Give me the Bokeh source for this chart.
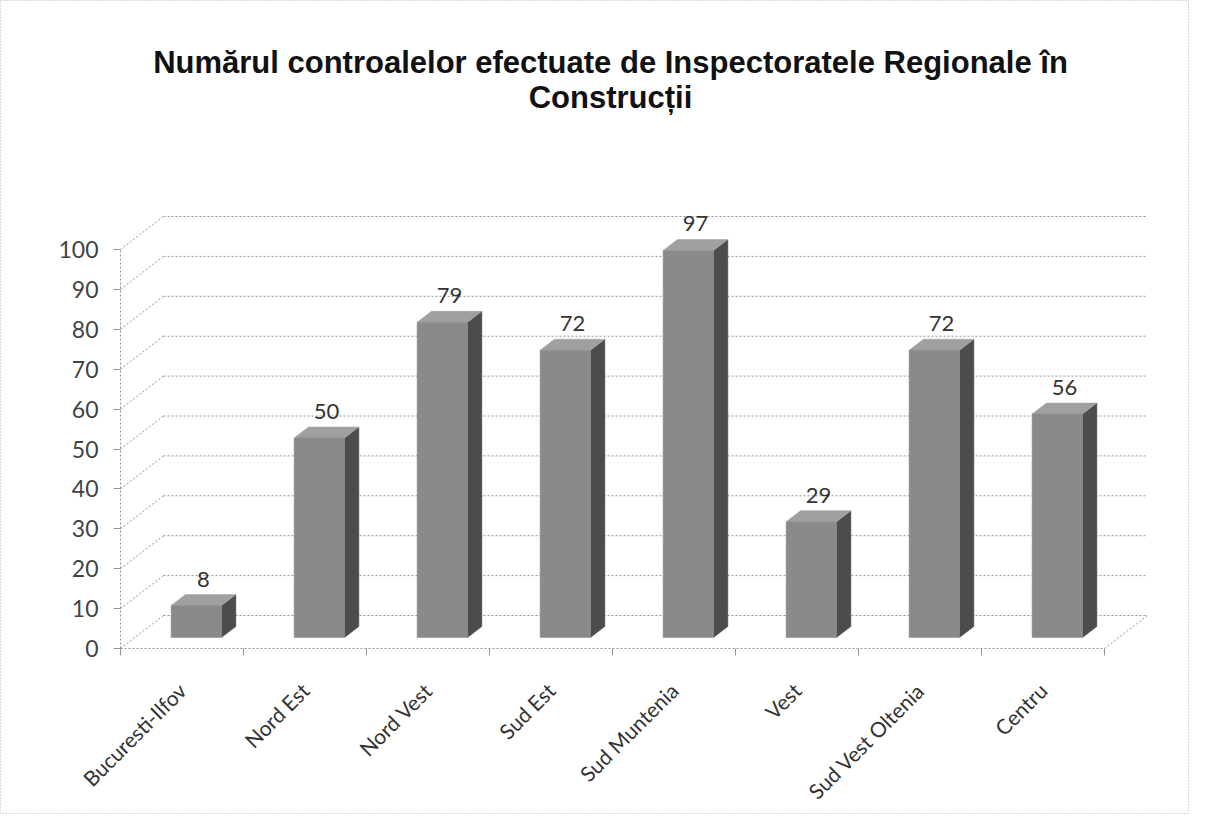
import math
from bokeh.plotting import figure
from bokeh.models import Range1d, LinearAxis, FixedTicker, Label, ColumnDataSource
from bokeh.core.properties import value
from bokeh.embed import file_html
from bokeh.resources import INLINE

# ---- data ----
categories = ["Bucuresti-Ilfov", "Nord Est", "Nord Vest", "Sud Est",
              "Sud Muntenia", "Vest", "Sud Vest Oltenia", "Centru"]
counts = [8, 50, 79, 72, 97, 29, 72, 56]
y_ticks = [0, 10, 20, 30, 40, 50, 60, 70, 80, 90, 100]
title_lines = ["Numărul controalelor efectuate de Inspectoratele Regionale în",
               "Construcții"]

# ---- geometry (pseudo-3D) ----
W, H = 1189, 814
PX_X = 123.0          # pixels per category
PX_Y = 3.99           # pixels per unit
X0 = 181.5            # canvas px of first category centre (front plane)
Y0 = 648.0            # canvas px of value 0 (front plane)
DX = 43.0 / PX_X      # depth offset in x (data units)
DY = 33.0 / PX_Y      # depth offset in y (data units)
D0, D1 = 1/3, 2/3     # bar depth span
BW = 0.41             # bar width (category units)
YMAX = 100

n = len(categories)
xs = list(range(n))

p = figure(width=W, height=H, output_backend="svg", toolbar_location=None,
           x_range=Range1d(-X0 / PX_X, (W - X0) / PX_X),
           y_range=Range1d(-(H - Y0) / PX_Y, Y0 / PX_Y),
           min_border=0, min_border_left=0, min_border_right=0,
           min_border_top=0, min_border_bottom=0)
p.xaxis.visible = False
p.yaxis.visible = False
p.xgrid.visible = False
p.ygrid.visible = False
p.background_fill_color = "white"
p.border_fill_color = "white"
p.outline_line_color = "#b5b5b5"
p.outline_line_dash = "1 2"

grid_col = "#949494"
grid_dash = "2 2"
xl, xr = -0.5, n - 0.5

# back wall horizontal gridlines
p.multi_line(xs=[[xl + DX, xr + DX] for t in y_ticks],
             ys=[[t + DY, t + DY] for t in y_ticks],
             line_color=grid_col, line_dash=grid_dash, line_width=1)
# left wall diagonals
p.multi_line(xs=[[xl, xl + DX] for t in y_ticks],
             ys=[[t, t + DY] for t in y_ticks],
             line_color=grid_col, line_dash=grid_dash, line_width=1)
# floor right edge
p.line([xr, xr + DX], [0, DY], line_color=grid_col, line_dash=grid_dash, line_width=1)

# ---- bars ----
front_col = "#8a8a8a"
side_col = "#4c4c4c"
top_col = "#a0a0a0"

fl = [x - BW / 2 + D0 * DX for x in xs]
fr = [x + BW / 2 + D0 * DX for x in xs]
fb = [D0 * DY for _ in xs]
ft = [v + D0 * DY for v in counts]

side_x, side_y, top_x, top_y = [], [], [], []
for x, v in zip(xs, counts):
    r0 = x + BW / 2 + D0 * DX
    r1 = x + BW / 2 + D1 * DX
    l0 = x - BW / 2 + D0 * DX
    l1 = x - BW / 2 + D1 * DX
    side_x.append([r0, r1, r1, r0])
    side_y.append([D0 * DY, D1 * DY, v + D1 * DY, v + D0 * DY])
    top_x.append([l0, r0, r1, l1])
    top_y.append([v + D0 * DY, v + D0 * DY, v + D1 * DY, v + D1 * DY])

p.patches(side_x, side_y, fill_color=side_col, line_color=side_col, line_width=0.5)
p.patches(top_x, top_y, fill_color=top_col, line_color=top_col, line_width=0.5)
p.quad(left=fl, right=fr, bottom=fb, top=ft, fill_color=front_col,
       line_color=front_col, line_width=0.5)

# data labels
lab_src = ColumnDataSource(dict(
    x=[x + 0.5 * DX for x in xs],
    y=[v + 0.5 * DY for v in counts],
    t=[str(v) for v in counts]))
p.text(x="x", y="y", text="t", source=lab_src, text_align="center",
       text_baseline="alphabetic", y_offset=-21,
       text_font=value("Lato"), text_font_size="22px", text_color="#333333")

# ---- axes at fixed (front) locations ----
yax = LinearAxis(fixed_location=xl, bounds=(0, YMAX),
                 ticker=FixedTicker(ticks=y_ticks, minor_ticks=[]))
yax.axis_line_color = grid_col
yax.axis_line_dash = grid_dash
yax.major_tick_out = 7
yax.major_tick_in = 0
yax.major_tick_line_color = grid_col
yax.minor_tick_out = 0
yax.minor_tick_in = 0
yax.major_label_standoff = 15
yax.major_label_text_font = "Lato"
yax.major_label_text_font_size = "23px"
yax.major_label_text_color = "#444444"
p.add_layout(yax, "left")

xax = LinearAxis(fixed_location=0, bounds=(xl, xr),
                 ticker=FixedTicker(ticks=xs, minor_ticks=[x - 0.5 for x in xs] + [xr]))
xax.major_label_overrides = {i: c for i, c in zip(xs, categories)}
xax.major_label_orientation = math.pi / 4
xax.axis_line_color = grid_col
xax.axis_line_dash = grid_dash
xax.major_tick_out = 0
xax.major_tick_in = 0
xax.minor_tick_out = 7
xax.minor_tick_in = 0
xax.minor_tick_line_color = grid_col
xax.major_label_standoff = 31
xax.major_label_text_font = "Lato"
xax.major_label_text_font_size = "21px"
xax.major_label_text_color = "#333333"
p.add_layout(xax, "below")

# ---- title ----
tx = (610 - X0) / PX_X
for line, base_px in zip(title_lines, [62, 97]):
    p.add_layout(Label(x=tx, y=(Y0 - base_px) / PX_Y, text=line,
                       text_align="center", text_baseline="alphabetic",
                       text_font="Liberation Sans", text_font_style="bold",
                       text_font_size="31px", text_color="#111111"))

open("out.html", "w").write(file_html(p, INLINE))
